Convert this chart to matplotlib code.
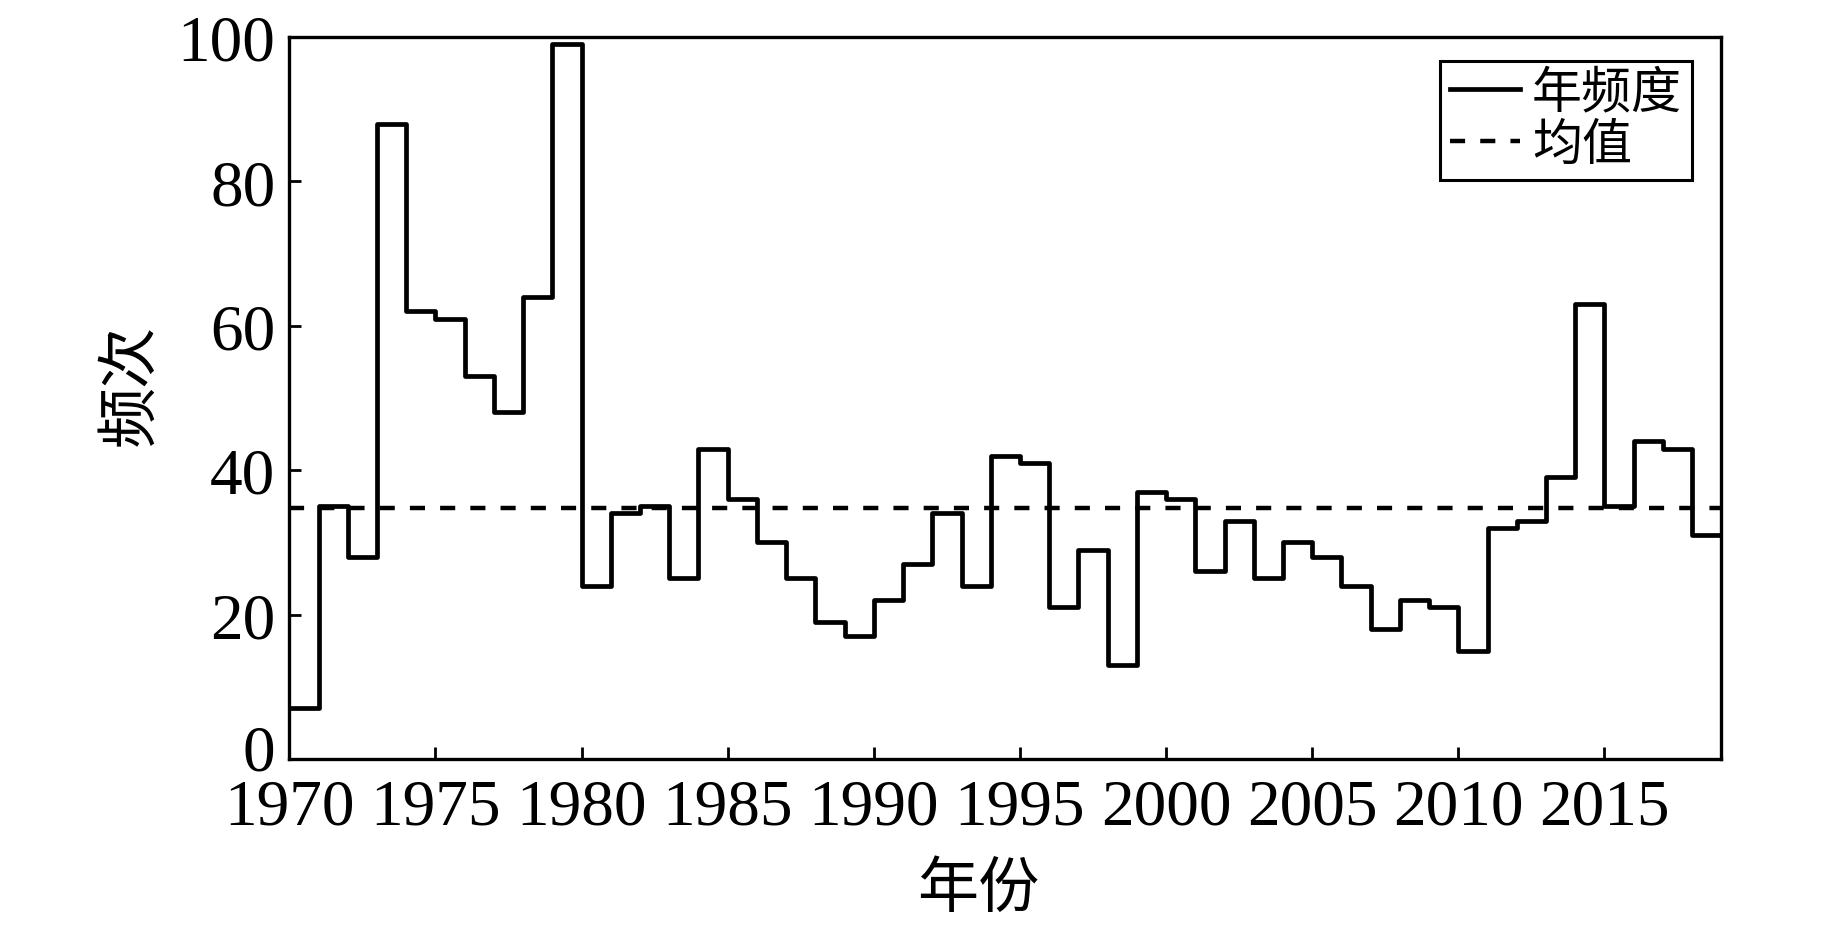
import numpy as np
import matplotlib
matplotlib.use('Agg')
import matplotlib.pyplot as plt
import matplotlib.transforms as mtransforms

plt.rcParams['font.family'] = ['Liberation Serif', 'Noto Sans CJK SC']

# annual frequency, 1970-2018
years = np.arange(1970, 2019)
freq = [7, 35, 28, 88, 62, 61, 53, 48, 64, 99,
        24, 34, 35, 25, 43, 36, 30, 25, 19, 17,
        22, 27, 34, 24, 42, 41, 21, 29, 13, 37,
        36, 26, 33, 25, 30, 28, 24, 18, 22, 21,
        15, 32, 33, 39, 63, 35, 44, 43, 31]
mean_freq = 34.8

xticks = np.arange(1970, 2016, 5)
yticks = [0, 20, 40, 60, 80, 100]

fig = plt.figure(figsize=(18.43, 9.29), dpi=100)
ax = fig.add_axes([0.157, 0.182, 0.777, 0.777])

# extend last step to the end of 2018
x = np.append(years, years[-1] + 1)
y = np.append(freq, freq[-1])
ax.step(x, y, where='post', color='black', lw=3.4, label='年频度')
ax.axhline(mean_freq, color='black', lw=3.2, ls=(0, (3.4, 3.4)), label='均值')

ax.set_xlim(1970, 2019)
ax.set_ylim(0, 100)
ax.set_xticks(xticks)
ax.set_yticks(yticks)
ax.tick_params(direction='in', length=8.5, width=2, labelsize=47)
ax.tick_params(axis='x', pad=14)
ax.tick_params(axis='y', pad=10)
for s in ax.spines.values():
    s.set_linewidth(2.4)

# the "0" sits a little above the axis line in the original
fig.canvas.draw()
lab0 = ax.get_yticklabels()[0]
lab0.set_transform(lab0.get_transform() +
                   mtransforms.ScaledTranslation(0, 12 / 100, fig.dpi_scale_trans))

ax.set_xlabel('年份', fontsize=44)
ax.xaxis.set_label_coords(0.481, -0.143)
ax.set_ylabel('频次', fontsize=44)
ax.yaxis.set_label_coords(-0.09, 0.52)

leg = ax.legend(loc='upper right', fontsize=36, frameon=True, fancybox=False,
                handlelength=1.4, handletextpad=0.25, borderpad=0.2,
                labelspacing=0.12, borderaxespad=0,
                bbox_to_anchor=(0.9795, 0.9675))
leg.get_frame().set_edgecolor('black')
leg.get_frame().set_linewidth(2.2)
leg.get_frame().set_alpha(1)

fig.savefig('out.png', dpi=100)
